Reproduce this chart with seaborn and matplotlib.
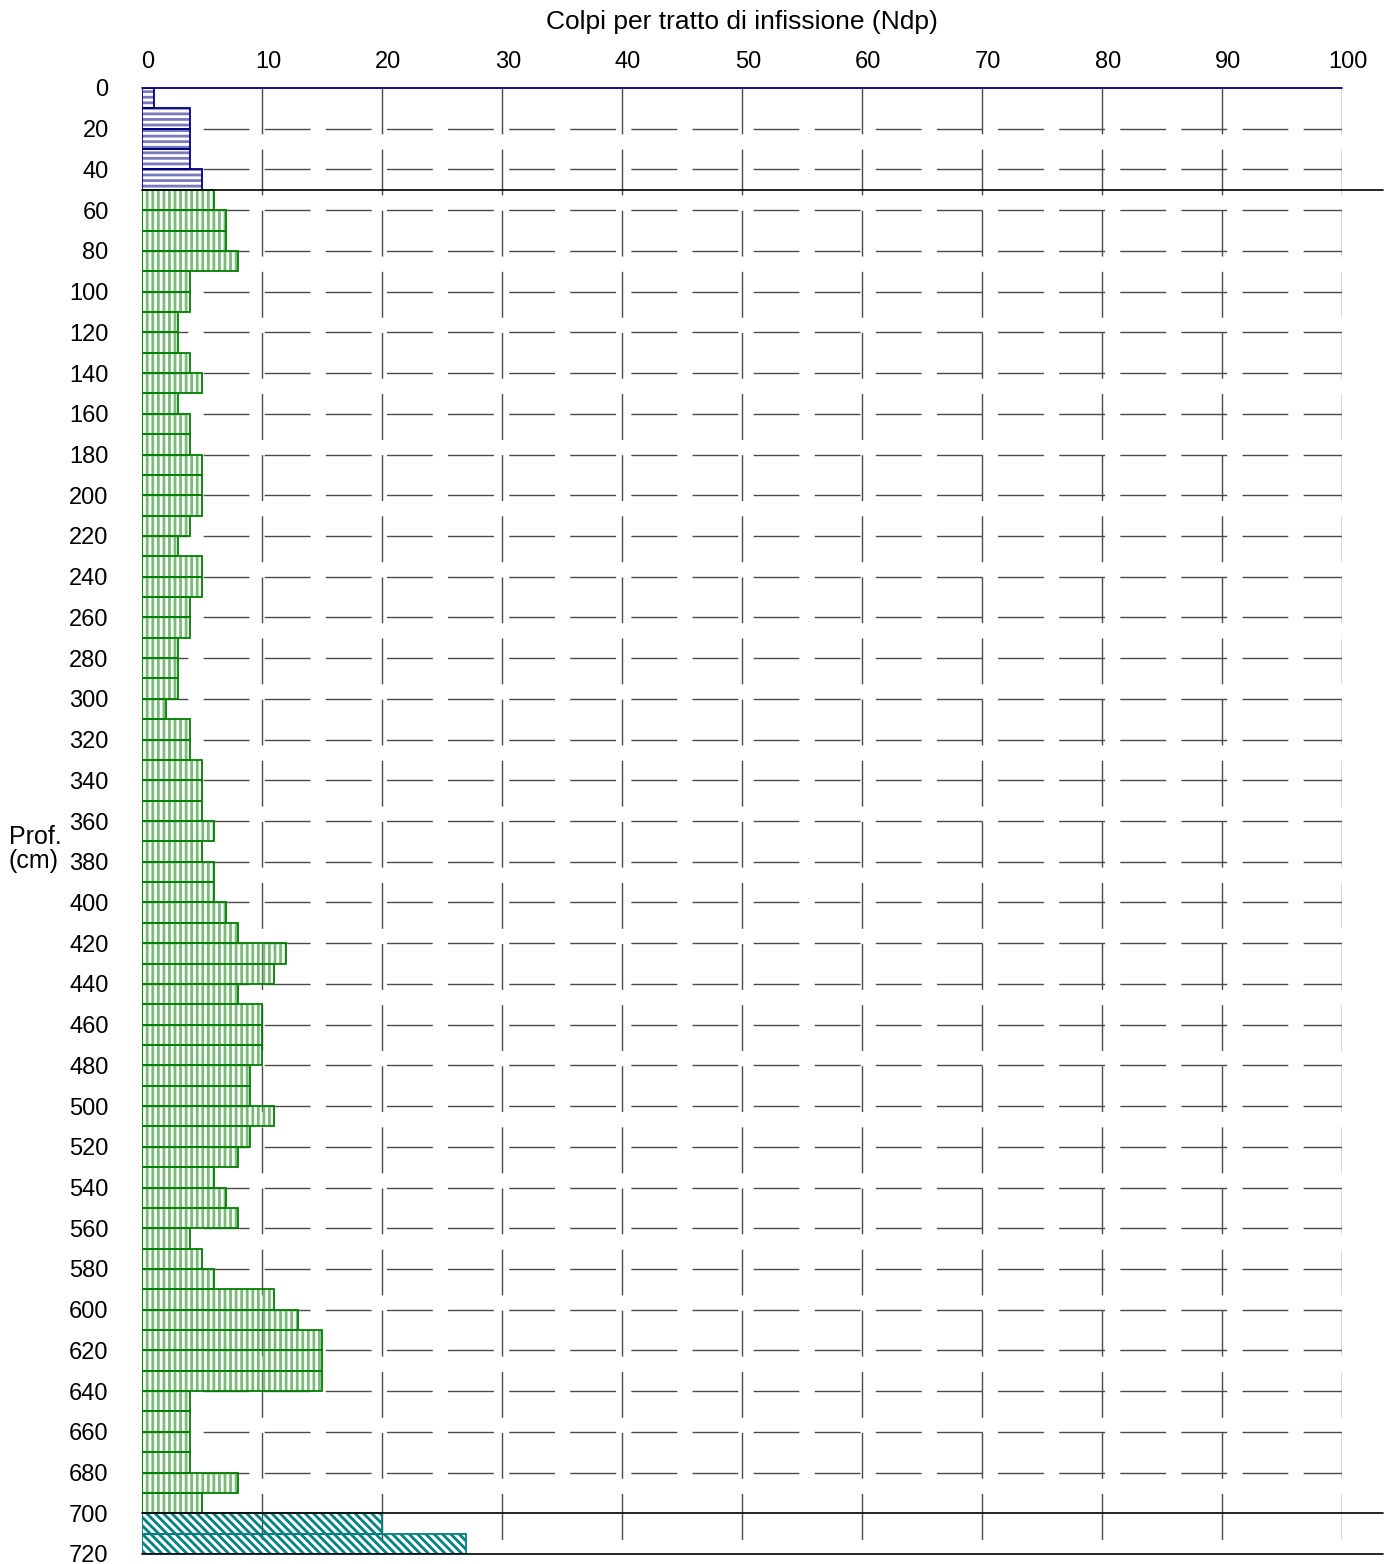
import numpy as np
import pandas as pd
import matplotlib
matplotlib.use('Agg')
import matplotlib.pyplot as plt
import matplotlib.transforms as mtransforms
import seaborn as sns

# colpi per tratto (10 cm) - tre strati
ndp_strato1 = [1, 4, 4, 4, 5]                      # 0 - 50 cm
ndp_strato2 = [6, 7, 7, 8, 4,                      # 50 - 700 cm
               4, 3, 3, 4, 5,
               3, 4, 4, 5, 5,
               5, 4, 3, 5, 5,
               4, 4, 3, 3, 3,
               2, 4, 4, 5, 5,
               5, 6, 5, 6, 6,
               7, 8, 12, 11, 8,
               10, 10, 10, 9, 9,
               11, 9, 8, 6, 7,
               8, 4, 5, 6, 11,
               13, 15, 15, 15, 4,
               4, 4, 4, 8, 5]
ndp_strato3 = [20, 27]                             # 700 - 720 cm
strato_top = [0, 50, 700]
passo = 10

x_ticks = list(range(0, 101, 10))
y_ticks = list(range(0, 721, 20))

sns.set_style('white')
plt.rcParams['font.family'] = ['Liberation Sans', 'DejaVu Sans']
plt.rcParams['text.color'] = 'black'
plt.rcParams['xtick.color'] = 'black'
plt.rcParams['ytick.color'] = 'black'
plt.rcParams['hatch.linewidth'] = 2.0

fig = plt.figure(figsize=(13.9, 15.64), dpi=100)
ax = fig.add_axes([142 / 1390, 10 / 1564, 1200 / 1390, 1466 / 1564])

# griglia tratteggiata
dash = (0, (33, 11))
for x in x_ticks[1:]:
    ax.plot([x, x], [0, 720], color='#4a4a4a', lw=1, ls=dash, zorder=1)
for d in range(20, 700, 20):
    ax.plot([0, 100], [d, d], color='#4a4a4a', lw=1, ls=dash, zorder=1)

strati = [
    (ndp_strato1, strato_top[0], '#000080', '#7878bc', '---'),
    (ndp_strato2, strato_top[1], '#008000', '#78bc78', '|||'),
    (ndp_strato3, strato_top[2], '#008080', '#008080', '\\\\\\\\'),
]

for vals, top, edge, hcol, hatch in strati:
    df = pd.DataFrame({'prof': top + passo / 2 + passo * np.arange(len(vals)),
                       'ndp': vals})
    # riempimento tratteggiato
    n0 = len(ax.patches)
    sns.barplot(data=df, x='ndp', y='prof', orient='h', native_scale=True,
                width=1, color=edge, errorbar=None, ax=ax)
    for p in ax.patches[n0:]:
        p.set_facecolor('none')
        p.set_edgecolor(hcol)
        p.set_hatch(hatch)
        p.set_linewidth(0)
        p.set_zorder(2)
    # contorno
    n0 = len(ax.patches)
    sns.barplot(data=df, x='ndp', y='prof', orient='h', native_scale=True,
                width=1, color=edge, errorbar=None, ax=ax)
    for p in ax.patches[n0:]:
        p.set_facecolor('none')
        p.set_edgecolor(edge)
        p.set_linewidth(1.3)
        p.set_zorder(3)

# limiti strati
ax.plot([0, 100], [0, 0], color='#000080', lw=1.3, zorder=4, clip_on=False)
for d in [50, 700, 720]:
    ax.plot([0, 103.4], [d, d], color='black', lw=1.2, zorder=4, clip_on=False)

ax.set_xlim(0, 100)
ax.set_ylim(720, 0)
for s in ax.spines.values():
    s.set_visible(False)

ax.xaxis.tick_top()
ax.set_xticks(x_ticks)
ax.set_xticklabels([str(v) for v in x_ticks])
ax.set_yticks(y_ticks)
ax.set_yticklabels([str(v) for v in y_ticks])
ax.tick_params(axis='x', length=0, pad=11, labelsize=17)
ax.tick_params(axis='y', length=0, pad=24, labelsize=17)
shift = mtransforms.ScaledTranslation(6 / 100, 0, fig.dpi_scale_trans)
for lab in ax.get_xticklabels():
    lab.set_transform(lab.get_transform() + shift)
ax.set_xlabel('')
ax.set_ylabel('')
ax.grid(False)

fig.text(742 / 1390, 1 - 22 / 1564, 'Colpi per tratto di infissione (Ndp)',
         ha='center', va='center', fontsize=19)
fig.text(9 / 1390, 1 - 849 / 1564, 'Prof.\n(cm)', ha='left', va='center',
         fontsize=18, linespacing=1.0)

fig.savefig('out.png', dpi=100)
